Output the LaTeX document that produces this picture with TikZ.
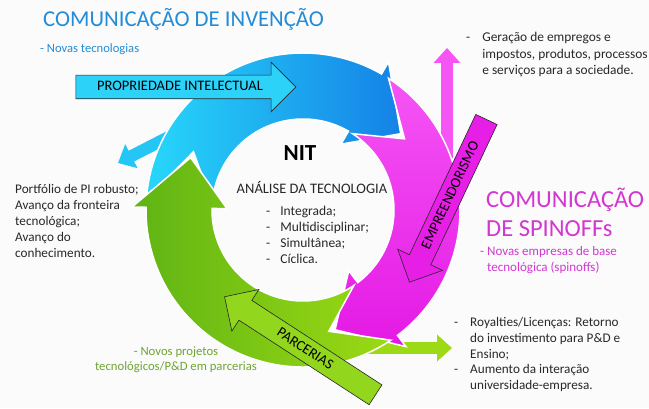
\documentclass[tikz,border=0pt]{standalone}
\usepackage{fontspec}
\setmainfont{Carlito}
\usetikzlibrary{arrows.meta,positioning,calc,shapes.arrows}

\definecolor{bgwhite}{RGB}{251,251,251}
\definecolor{textgray}{RGB}{40,40,40}
\definecolor{titleblue}{RGB}{35,140,215}
\definecolor{spinmag}{RGB}{210,55,210}
\definecolor{parcgreen}{RGB}{110,165,50}
\definecolor{ringcyan}{RGB}{40,215,250}
\definecolor{ringblue}{RGB}{20,130,230}
\definecolor{ringmagA}{RGB}{245,85,245}
\definecolor{ringmagB}{RGB}{228,25,228}
\definecolor{ringgreenA}{RGB}{95,180,20}
\definecolor{ringgreenB}{RGB}{155,218,20}
\definecolor{propcyan}{RGB}{45,210,248}
\definecolor{empmag}{RGB}{230,30,230}
\definecolor{parcfill}{RGB}{146,214,30}

% ring radii (px)
\def\Rout{157}
\def\Rbarb{171}
\def\Rin{91}
\def\Rinb{76}
\def\Rmid{124}

% curved ring arrow: #1 style, #2 tail, #3 notch, #4 head base, #5 tip
\newcommand{\ringarrow}[5]{%
  \shadedraw[ring,#1] ($(C)+(#2:\Rout)$) arc[start angle=#2, end angle=#4, radius=\Rout]
    -- ($(C)+(#4:\Rbarb)$) -- ($(C)+(#5:\Rmid)$) -- ($(C)+(#4:\Rinb)$)
    -- ($(C)+(#4:\Rin)$) arc[start angle=#4, end angle=#2, radius=\Rin]
    -- ($(C)+(#3:\Rmid)$) -- cycle;}

\begin{document}
\begin{tikzpicture}[x=1pt, y=1pt, >=Stealth,
  every node/.style={font=\fontsize{13.5}{16}\selectfont, text=textgray},
  ring/.style={draw=white, line width=1.5pt},
  blockarrow/.style={single arrow, draw=black!85, line width=0.6pt,
    single arrow head extend=13pt, inner xsep=4pt, inner ysep=5.5pt,
    text height=10pt, text depth=2pt, font=\fontsize{14.5}{16}\selectfont, text=black},
  branch/.style={line width=12pt, -{Triangle[length=15pt, width=26pt]}}]
  \fill[bgwhite] (0,0) rectangle (649,408);
  \useasboundingbox (0,0) rectangle (649,408);

  \coordinate (C) at (303,198);

  % side branches
  \coordinate (bluefrom) at (192,283);
  \coordinate (blueto) at (118,245);
  \coordinate (magfrom) at (447,250);
  \coordinate (magto) at (447,360);
  \coordinate (greenfrom) at (320,60);
  \coordinate (greento) at (452,60);
  \draw[branch, ringcyan!80!ringblue] (bluefrom) -- (blueto);
  \draw[branch, ringmagA] (magfrom) -- (magto);
  \draw[branch, ringgreenB] (greenfrom) -- (greento);

  % ring
  \ringarrow{left color=ringcyan, right color=ringblue}{176}{152}{60}{38}
  \ringarrow{top color=ringmagA, bottom color=ringmagB}{57}{35}{-53}{-75}
  \ringarrow{left color=ringgreenA, right color=ringgreenB}{-56}{-78}{-181}{-205}

  % block arrows
  \node[blockarrow, fill=propcyan, minimum height=220] (prop) at (180,321) {PROPRIEDADE INTELECTUAL};
  \node[blockarrow, fill=empmag, rotate=64.7, shape border rotate=180, minimum height=180] (emp) at (450.5,212.5) {EMPREENDORISMO};
  \node[blockarrow, fill=parcfill, rotate=-33, shape border rotate=180, minimum height=180] (parc) at (305,59) {PARCERIAS};

  % texts
  \node[anchor=base west, inner sep=0, font=\fontsize{22.7}{28}\selectfont, text=titleblue] (inv) at (43,381) {COMUNICAÇÃO DE INVENÇÃO};
  \node[anchor=base west, inner sep=0, font=\fontsize{12.6}{14}\selectfont, text=titleblue] (novas) at (40,355) {- Novas tecnologias};
  \node[anchor=west, align=left, inner sep=0, font=\fontsize{13.2}{16}\selectfont] (portf) at (15,187) {Portfólio de PI robusto;\\ Avanço da fronteira\\ tecnológica;\\ Avanço do\\ conhecimento.};

  \node[font=\bfseries\fontsize{23}{26}\selectfont, text=black] (nit) at (300,255) {NIT};
  \node[font=\fontsize{14.5}{16}\selectfont] (ana) at (312,221) {ANÁLISE DA TECNOLOGIA};
  \node[anchor=west, inner sep=0] (lista) at (266,172) {\begin{tabular}{@{}l@{\hspace{10pt}}l@{}}
    - & Integrada;\\ - & Multidisciplinar;\\ - & Simultânea;\\ - & Cíclica.\end{tabular}};

  \node[anchor=west, inner sep=0, font=\fontsize{13.4}{16.5}\selectfont] (gera) at (466,353) {\begin{tabular}{@{}l@{\hspace{12pt}}l@{}}
    - & Geração de empregos e\\ & impostos, produtos, processos\\ & e serviços para a sociedade.\end{tabular}};

  \node[anchor=west, align=left, inner sep=0, font=\fontsize{24.5}{29}\selectfont, text=spinmag] (spin) at (486,196) {COMUNICAÇÃO\\DE SPINOFFs};
  \node[anchor=west, align=left, inner sep=0, font=\fontsize{13}{16}\selectfont, text=spinmag] (spinsub) at (480,148) {- Novas empresas de base\\\hspace*{7pt}tecnológica (spinoffs)};

  \node[anchor=west, inner sep=0, font=\fontsize{13.2}{15.8}\selectfont] (roy) at (454,53) {\begin{tabular}{@{}l@{\hspace{12pt}}l@{}}
    - & Royalties/Licenças: Retorno\\ & do investimento para P\&D e\\ & Ensino;\\
    - & Aumento da interação\\ & universidade-empresa.\end{tabular}};

  \node[align=center, font=\fontsize{12.7}{15}\selectfont, text=parcgreen] (proj) at (176,48) {- Novos projetos\\tecnológicos/P\&D em parcerias};
\end{tikzpicture}
\end{document}
